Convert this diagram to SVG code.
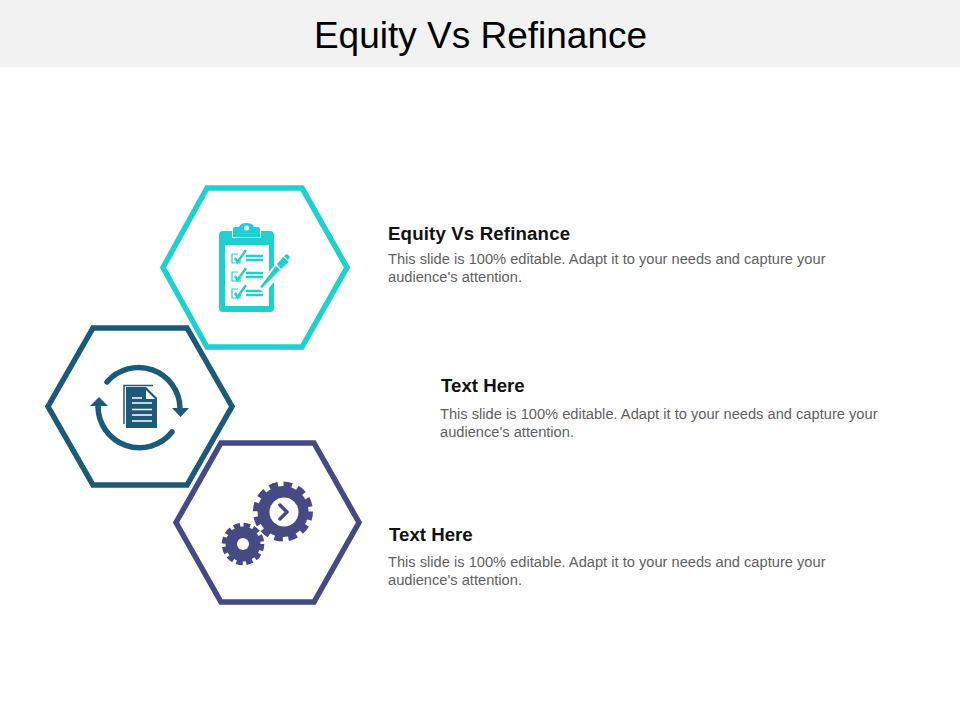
<svg xmlns="http://www.w3.org/2000/svg" width="960" height="720" viewBox="0 0 960 720">
<style>
text{font-family:"Liberation Sans",Arial,sans-serif}
.t{font-size:37px;fill:#000;text-anchor:middle}
.h{font-size:18.670px;font-weight:700;fill:#111}
.b{font-size:14.670px;fill:#5f5f5f}
.hex{fill:none;stroke-width:5.500;stroke-linejoin:miter}
.c1{fill:#1fd0d0}.c2{fill:#1b5a78}.c3{fill:#464a84}
.w{fill:#fff}
.l1{stroke:#1fd0d0;fill:none}
.l2{stroke:#1b5a78;fill:none}
.l3{stroke:#464a84;fill:none}
</style>
<rect width="960" height="67" fill="#f2f2f2"/>
<text class="t" x="480.500" y="48">Equity Vs Refinance</text>
<g id="connectors"/>
<g id="node-1">
<path class="hex l1" d="M207 188H302L347 267.500L302 347H207L163 267.500Z"/>
<path class="c1" d="M223 231H233V229Q233 227 235 227H239Q240 223 246.500 223Q253 223 254 227H258Q260 227 260 229V231H270Q274 231 274 235V308Q274 312 270 312H223Q219 312 219 308V235Q219 231 223 231Z"/>
<circle class="w" cx="246.500" cy="228" r="2.500"/>
<path fill="none" stroke="#fff" stroke-width="1" d="M232.500 231V237.500H260.500V231"/>
<rect class="w" x="225" y="245" width="44" height="61"/>
<g class="l1" stroke-width="1.200">
<path d="M238 254H232V263H240V258M238 272H232V281H240V276M238 289H232V298H240V293"/>
</g>
<g class="l1" stroke-width="2.400">
<path d="M235 258L237.500 262L246 250M235 276L237.500 280L246 268M235 293L237.500 297L246 285"/>
<path d="M246 256H263M246 260H263M246 273H263M246 277H263M246 291H263M246 295H263"/>
</g>
<path class="w" d="M257 288L284 252L293 258L265 293Z"/>
<path class="c1" d="M260 287L276 266L280 270L262 288ZM277 264L283 257L289 262L281 269ZM284 256L287 254L290 257L288 260Z"/>
</g>
<g id="node-2">
<path class="hex l2" d="M93 328H187L232 406.500L187 485H93L48 406.500Z"/>
<g class="l2" stroke-width="5.500" stroke-linecap="round">
<path d="M107 382A41.500 41.500 0 0 1 180 408"/>
<path d="M172 432A41.500 41.500 0 0 1 98 406"/>
</g>
<path class="c2" d="M172 408H189L180.500 417ZM90 406L99 397L108 406Z"/>
<path fill="none" stroke="#1b5a78" stroke-width="1.500" d="M124 424V385.500H153"/>
<path class="c2" d="M126 387H146L157 398V428H126Z"/>
<path class="w" d="M146 390L155 399H146Z"/>
<path fill="none" stroke="#fff" stroke-width="1.500" d="M132 398H142M132 403H152M132 409.500H152M132 415H152M132 421H152"/>
</g>
<g id="node-3">
<path class="hex l3" d="M221 443H314L359 522.500L314 602H221L176 522.500Z"/>
<circle class="c3" cx="283" cy="511.500" r="25.500"/>
<circle class="l3" cx="283" cy="511.500" r="27" stroke-width="6" stroke-dasharray="8.500 5.640"/>
<circle class="w" cx="284" cy="512" r="14.500"/>
<path fill="none" stroke="#464a84" stroke-width="3.500" stroke-linecap="round" stroke-linejoin="round" d="M280 505L287 512L280 519"/>
<circle class="c3" cx="243" cy="544" r="17.500"/>
<circle class="l3" cx="243" cy="544" r="19" stroke-width="4.500" stroke-dasharray="6.500 3.450"/>
<circle class="w" cx="243" cy="544" r="6"/>
</g>
<g id="text-1">
<text class="h" x="388" y="239.500" letter-spacing="0.150">Equity Vs Refinance</text>
<text class="b" x="388" y="263.500">This slide is 100% editable. Adapt it to your needs and capture your</text>
<text class="b" x="388" y="282">audience's attention.</text>
</g>
<g id="text-2">
<text class="h" x="441" y="392">Text Here</text>
<text class="b" x="440" y="418.500">This slide is 100% editable. Adapt it to your needs and capture your</text>
<text class="b" x="440" y="437">audience's attention.</text>
</g>
<g id="text-3">
<text class="h" x="389" y="541">Text Here</text>
<text class="b" x="388" y="566.500">This slide is 100% editable. Adapt it to your needs and capture your</text>
<text class="b" x="388" y="585">audience's attention.</text>
</g>
</svg>
